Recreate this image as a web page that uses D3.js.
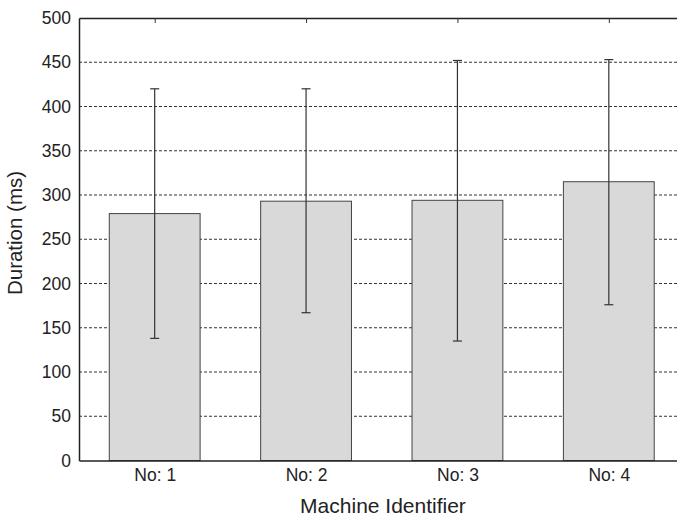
<!DOCTYPE html>
<html><head><meta charset="utf-8">
<script src="https://cdn.jsdelivr.net/npm/d3@7"></script>
<style>body{margin:0;background:#fff}svg{display:block}text{font-family:"Liberation Sans",Arial,sans-serif;fill:#222}</style>
</head><body><svg id="c" width="677" height="517"></svg>
<script>
const categories = ["No: 1","No: 2","No: 3","No: 4"];
const means = [279, 293, 294, 315];
const errLow = [138, 167, 135, 176];
const errHigh = [420, 420, 452, 453];
const yTicks = [0,50,100,150,200,250,300,350,400,450,500];

const svg = d3.select("#c");
const L = 79, T = 18, B = 460.5;
const x = d3.scaleLinear().domain([0.5, 4.5]).range([L, 684.5]);
const y = d3.scaleLinear().domain([0, 500]).range([B, T]);
const step = x(2) - x(1);
const bw = step * 0.6;

// gridlines
svg.append("g").selectAll("line").data(yTicks.filter(d => d > 0 && d < 500)).join("line")
  .attr("x1", L).attr("x2", 677).attr("y1", d => y(d)).attr("y2", d => y(d))
  .attr("stroke", "#333").attr("stroke-width", 1).attr("stroke-dasharray", "3,2");

// bars
svg.append("g").selectAll("rect").data(means).join("rect")
  .attr("x", (d, i) => x(i + 1) - bw / 2).attr("width", bw)
  .attr("y", d => y(d)).attr("height", d => y(0) - y(d))
  .attr("fill", "#d9d9d9").attr("stroke", "#444").attr("stroke-width", 1);

// error bars
const eg = svg.append("g").attr("stroke", "#333").attr("stroke-width", 1.2);
categories.forEach((c, i) => {
  const cx = x(i + 1);
  eg.append("line").attr("x1", cx).attr("x2", cx).attr("y1", y(errLow[i])).attr("y2", y(errHigh[i]));
  eg.append("line").attr("x1", cx - 4.5).attr("x2", cx + 4.5).attr("y1", y(errLow[i])).attr("y2", y(errLow[i]));
  eg.append("line").attr("x1", cx - 4.5).attr("x2", cx + 4.5).attr("y1", y(errHigh[i])).attr("y2", y(errHigh[i]));
});

// axes
const yAxis = d3.axisLeft(y).tickValues(yTicks).tickSize(0).tickPadding(8);
const ya = svg.append("g").attr("transform", `translate(${L},0)`).call(yAxis);
ya.select(".domain").attr("stroke", "#222").attr("stroke-width", 1.5);
ya.selectAll("text").attr("font-size", 17.5).attr("fill", "#222").style("font-family", "Liberation Sans, Arial, sans-serif");

const xAxis = d3.axisBottom(x).tickValues([1,2,3,4]).tickFormat((d) => categories[d - 1]).tickSize(0).tickPadding(8);
const xa = svg.append("g").attr("transform", `translate(0,${B})`).call(xAxis);
xa.select(".domain").attr("stroke", "#222").attr("stroke-width", 1.5);
xa.selectAll("text").attr("font-size", 17.5).attr("fill", "#222").style("font-family", "Liberation Sans, Arial, sans-serif");

// top border with inward ticks
const xTop = d3.axisTop(x).tickValues([1,2,3,4]).tickFormat("").tickSizeInner(-5).tickSizeOuter(0);
const xt = svg.append("g").attr("transform", `translate(0,${T})`).call(xTop);
xt.select(".domain").attr("stroke", "#222").attr("stroke-width", 1.5);
xt.selectAll(".tick line").attr("stroke", "#333");

// titles
svg.append("text").attr("x", 383).attr("y", 513).attr("text-anchor", "middle").attr("font-size", 21).text("Machine Identifier");
svg.append("text").attr("transform", `translate(22,233) rotate(-90)`).attr("text-anchor", "middle").attr("font-size", 20.5).text("Duration (ms)");
</script></body></html>
